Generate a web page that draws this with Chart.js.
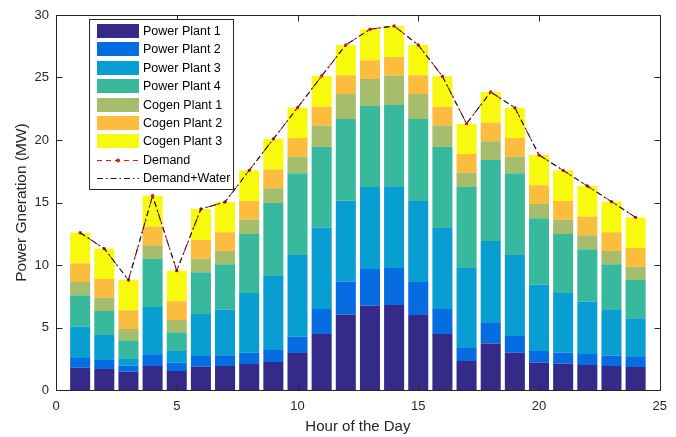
<!DOCTYPE html>
<html>
<head>
<meta charset="utf-8">
<script src="https://cdn.jsdelivr.net/npm/chart.js@4/dist/chart.umd.min.js"></script>
<style>
  html, body { margin: 0; padding: 0; background: #ffffff; }
  #wrap { width: 676px; height: 437px; }
</style>
</head>
<body>
<div id="wrap"><canvas id="c" width="676" height="437"></canvas></div>
<script>
// ---- data ----
const hours = [1,2,3,4,5,6,7,8,9,10,11,12,13,14,15,16,17,18,19,20,21,22,23,24];
const powerPlant1 = [1.79,1.68,1.47,1.92,1.52,1.87,1.92,2.08,2.24,2.96,4.48,6.02,6.75,6.80,6.00,4.48,2.32,3.73,2.98,2.18,2.10,2.00,1.92,1.84];
const powerPlant2 = [0.77,0.73,0.47,0.88,0.67,0.85,0.86,0.90,0.96,1.33,2.00,2.65,2.93,2.96,2.64,2.00,1.04,1.63,1.34,0.94,0.91,0.88,0.83,0.80];
const powerPlant3 = [2.51,1.99,0.54,3.84,0.94,3.36,3.65,4.78,5.92,6.51,6.51,6.48,6.56,6.54,6.48,6.49,6.40,6.57,6.48,5.30,4.75,4.18,3.65,3.10];
const powerPlant4 = [2.52,1.92,1.51,3.84,1.50,3.35,3.63,4.72,5.84,6.54,6.48,6.54,6.49,6.51,6.57,6.50,6.48,6.48,6.54,5.33,4.72,4.21,3.66,3.06];
const cogenPlant1 = [1.06,1.07,0.90,1.10,0.98,1.07,1.06,1.14,1.19,1.32,1.69,2.00,2.15,2.34,2.00,1.69,1.15,1.50,1.32,1.14,1.14,1.12,1.06,1.06];
const cogenPlant2 = [1.50,1.50,1.50,1.50,1.50,1.50,1.50,1.50,1.50,1.50,1.50,1.50,1.50,1.50,1.50,1.50,1.50,1.50,1.50,1.50,1.50,1.50,1.50,1.50];
const cogenPlant3 = [2.43,2.42,2.41,2.46,2.44,2.48,2.42,2.45,2.43,2.42,2.46,2.41,2.48,2.47,2.41,2.44,2.42,2.43,2.42,2.41,2.45,2.43,2.45,2.45];
const demand      = [12.58,11.31,8.80,15.54,9.55,14.48,15.04,17.57,20.08,22.58,25.12,27.60,28.86,29.12,27.60,25.10,21.31,23.84,22.58,18.80,17.57,16.32,15.07,13.81];
const demandWater = [12.58,11.31,8.80,15.54,9.55,14.48,15.04,17.57,20.08,22.58,25.12,27.60,28.86,29.12,27.60,25.10,21.31,23.84,22.58,18.80,17.57,16.32,15.07,13.81];
const xTicks = [0,5,10,15,20,25];
const yTicks = [0,5,10,15,20,25,30];

// ---- styling ----
const AX = '#262626';
const FONT = "'Liberation Sans', Arial, Helvetica, sans-serif";
const barSeries = [
  ['Power Plant 1', powerPlant1, 'rgb(53,42,135)'],
  ['Power Plant 2', powerPlant2, 'rgb(5,108,225)'],
  ['Power Plant 3', powerPlant3, 'rgb(8,158,210)'],
  ['Power Plant 4', powerPlant4, 'rgb(56,184,157)'],
  ['Cogen Plant 1', cogenPlant1, 'rgb(166,190,107)'],
  ['Cogen Plant 2', cogenPlant2, 'rgb(252,188,62)'],
  ['Cogen Plant 3', cogenPlant3, 'rgb(248,250,14)']
];
const pts = arr => hours.map((h, i) => ({x: h, y: arr[i]}));

const datasets = barSeries.map(([label, arr, color]) => ({
  type: 'bar', label, data: pts(arr), backgroundColor: color, borderWidth: 0,
  stack: 'gen', barPercentage: 0.83, categoryPercentage: 1.0, order: 10
}));
datasets.push({
  type: 'line', label: 'Demand', data: pts(demand), stack: 'd1', order: 2,
  borderColor: 'rgb(230,20,20)', borderWidth: 1, borderDash: [5, 4],
  pointRadius: 1.7, pointBackgroundColor: 'rgb(230,20,20)', pointBorderWidth: 0, tension: 0, fill: false
});
datasets.push({
  type: 'line', label: 'Demand+Water', data: pts(demandWater), stack: 'd2', order: 1,
  borderColor: '#1a1a1a', borderWidth: 1.1, borderDash: [6, 3, 1.5, 3],
  pointRadius: 0, tension: 0, fill: false
});

const framePlugin = {
  id: 'frame',
  afterDatasetsDraw(chart) {
    const {ctx, chartArea: a, scales: {x, y}} = chart;
    ctx.save();
    ctx.strokeStyle = AX;
    ctx.lineWidth = 1;
    const L = Math.round(a.left) + 0.5, R = Math.round(a.right) + 0.5;
    const T = Math.round(a.top) + 0.5, B = Math.round(a.bottom) + 0.5;
    ctx.beginPath();
    ctx.rect(L, T, R - L, B - T);
    xTicks.forEach(v => {
      const px = Math.round(x.getPixelForValue(v)) + 0.5;
      ctx.moveTo(px, B); ctx.lineTo(px, B - 6);
      ctx.moveTo(px, T); ctx.lineTo(px, T + 6);
    });
    yTicks.forEach(v => {
      const py = Math.round(y.getPixelForValue(v)) + 0.5;
      ctx.moveTo(L, py); ctx.lineTo(L + 6, py);
      ctx.moveTo(R, py); ctx.lineTo(R - 6, py);
    });
    ctx.stroke();
    ctx.restore();
  },
  afterDraw(chart) {
    // legend box (MATLAB-style, inside the axes)
    const {ctx} = chart;
    const bx = 89.5, by = 19.5, bw = 144, bh = 170;
    ctx.save();
    ctx.fillStyle = '#ffffff';
    ctx.fillRect(bx, by, bw, bh);
    ctx.strokeStyle = AX; ctx.lineWidth = 1;
    ctx.strokeRect(bx, by, bw, bh);
    ctx.font = '12.5px ' + FONT;
    ctx.textBaseline = 'middle';
    ctx.textAlign = 'left';
    const rowH = 18.4, y0 = 31;
    chart.data.datasets.forEach((ds, i) => {
      const cy = y0 + i * rowH;
      if (ds.type === 'bar') {
        ctx.fillStyle = ds.backgroundColor;
        ctx.fillRect(97, Math.round(cy - 7), 42, 14);
      } else {
        ctx.strokeStyle = ds.borderColor;
        ctx.lineWidth = ds.borderWidth;
        ctx.setLineDash(ds.borderDash);
        ctx.beginPath();
        ctx.moveTo(97, Math.round(cy) + 0.5); ctx.lineTo(139, Math.round(cy) + 0.5);
        ctx.stroke();
        ctx.setLineDash([]);
        if (ds.pointRadius > 0) {
          ctx.fillStyle = ds.pointBackgroundColor;
          ctx.beginPath(); ctx.arc(118, Math.round(cy) + 0.5, 2, 0, Math.PI * 2); ctx.fill();
        }
      }
      ctx.fillStyle = '#000000';
      ctx.fillText(ds.label, 143, cy + 0.5);
    });
    ctx.restore();
  }
};

new Chart(document.getElementById('c'), {
  data: { datasets },
  options: {
    responsive: false,
    animation: false,
    layout: { padding: { left: 0, right: 16, top: 15, bottom: 0 } },
    plugins: { legend: { display: false }, tooltip: { enabled: false } },
    scales: {
      x: {
        type: 'linear', min: 0, max: 25, offset: false,
        afterBuildTicks: s => { s.ticks = xTicks.map(v => ({value: v})); },
        grid: { display: false, drawTicks: false },
        border: { display: false },
        ticks: { color: AX, font: { family: FONT, size: 13 }, padding: 9, maxRotation: 0 },
        title: { display: true, text: 'Hour of the Day', color: AX, font: { family: FONT, size: 15 }, padding: { top: 0, bottom: 1 } },
        afterFit: s => { s.height = 47; }
      },
      y: {
        type: 'linear', min: 0, max: 30, stacked: true,
        afterBuildTicks: s => { s.ticks = yTicks.map(v => ({value: v})); },
        grid: { display: false, drawTicks: false },
        border: { display: false },
        ticks: { color: AX, font: { family: FONT, size: 13 }, padding: 7 },
        title: { display: true, text: 'Power Gneration (MW)', color: AX, font: { family: FONT, size: 15.5 }, padding: { top: 12, bottom: 0 } },
        afterFit: s => { s.width = 56; }
      }
    }
  },
  plugins: [framePlugin]
});
</script>
</body>
</html>
